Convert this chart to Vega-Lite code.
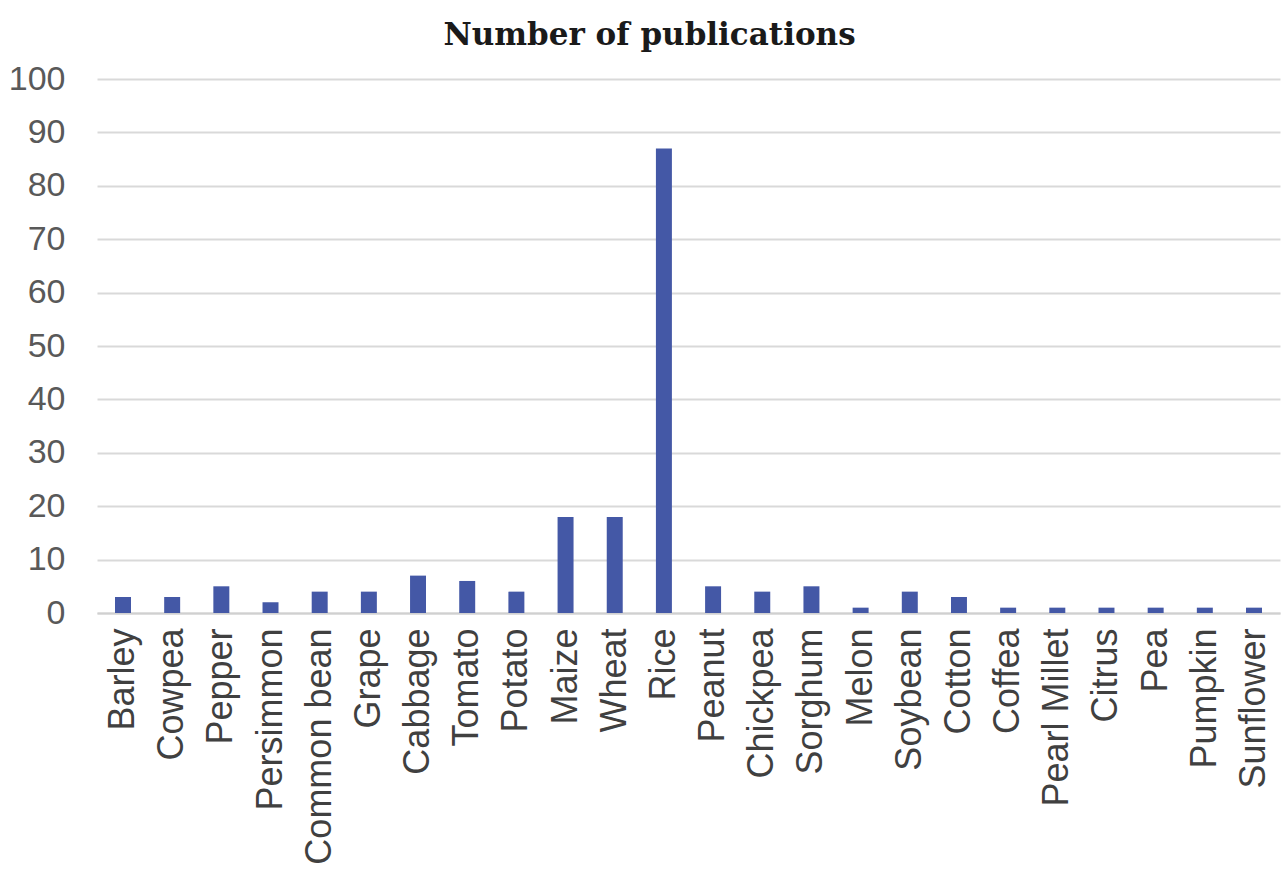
{
  "$schema": "https://vega.github.io/schema/vega-lite/v6.json",
  "width": 1183,
  "height": 534,
  "autosize": {"type": "none"},
  "padding": {"left": 97, "top": 79, "right": 2, "bottom": 256},
  "background": "white",
  "title": {
    "text": "Number of publications",
    "font": "DejaVu Serif",
    "fontWeight": "bold",
    "fontSize": 31,
    "color": "#1a1a1a",
    "anchor": "middle",
    "dx": -39,
    "offset": 10
  },
  "data": {
    "values": [
      {"crop": "Barley", "n": 3},
      {"crop": "Cowpea", "n": 3},
      {"crop": "Pepper", "n": 5},
      {"crop": "Persimmon", "n": 2},
      {"crop": "Common bean", "n": 4},
      {"crop": "Grape", "n": 4},
      {"crop": "Cabbage", "n": 7},
      {"crop": "Tomato", "n": 6},
      {"crop": "Potato", "n": 4},
      {"crop": "Maize", "n": 18},
      {"crop": "Wheat", "n": 18},
      {"crop": "Rice", "n": 87},
      {"crop": "Peanut", "n": 5},
      {"crop": "Chickpea", "n": 4},
      {"crop": "Sorghum", "n": 5},
      {"crop": "Melon", "n": 1},
      {"crop": "Soybean", "n": 4},
      {"crop": "Cotton", "n": 3},
      {"crop": "Coffea", "n": 1},
      {"crop": "Pearl Millet", "n": 1},
      {"crop": "Citrus", "n": 1},
      {"crop": "Pea", "n": 1},
      {"crop": "Pumpkin", "n": 1},
      {"crop": "Sunflower", "n": 1}
    ]
  },
  "mark": {"type": "bar", "color": "#4458a6"},
  "encoding": {
    "x": {
      "field": "crop",
      "type": "nominal",
      "sort": null,
      "title": null,
      "scale": {"paddingInner": 0.675, "paddingOuter": 0.366},
      "axis": {
        "labelAngle": -90,
        "labelAlign": "right",
        "labelBaseline": "middle",
        "labelFont": "Liberation Sans",
        "labelFontSize": 36,
        "labelLimit": 0,
        "labelColor": "#404040",
        "labelPadding": 15,
        "ticks": false,
        "domainColor": "#d0d0d0",
        "domainWidth": 2,
        "grid": false
      }
    },
    "y": {
      "field": "n",
      "type": "quantitative",
      "title": null,
      "scale": {"domain": [0, 100], "nice": false},
      "axis": {
        "values": [0, 10, 20, 30, 40, 50, 60, 70, 80, 90, 100],
        "labelFont": "Liberation Sans",
        "labelFontSize": 34,
        "labelColor": "#595959",
        "labelPadding": 32,
        "ticks": false,
        "domain": false,
        "grid": true,
        "gridColor": "#d9d9d9",
        "gridWidth": 2
      }
    }
  },
  "config": {"view": {"stroke": null}}
}
